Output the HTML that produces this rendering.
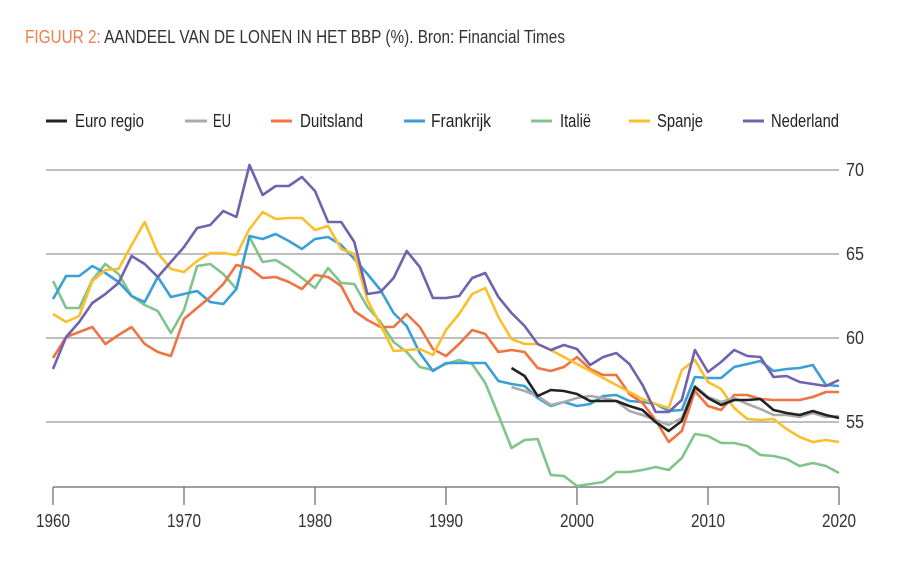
<!DOCTYPE html>
<html><head><meta charset="utf-8"><style>
html,body{margin:0;padding:0;background:#fff;}
svg{display:block;font-family:"Liberation Sans",sans-serif;}
</style></head><body>
<svg id="s" width="900" height="567" viewBox="0 0 900 567" xmlns="http://www.w3.org/2000/svg">
<text x="25" y="43" font-size="18" textLength="540" lengthAdjust="spacingAndGlyphs" fill="#333"><tspan fill="#f07f4f">FIGUUR 2:</tspan> AANDEEL VAN DE LONEN IN HET BBP (%). Bron: Financial Times</text>
<g stroke="#999" stroke-width="1.2">
<line x1="46" y1="170" x2="839" y2="170"/><line x1="46" y1="254" x2="839" y2="254"/>
<line x1="46" y1="338" x2="839" y2="338"/><line x1="46" y1="422" x2="839" y2="422"/>
</g>
<g font-size="18" fill="#333">
<text x="846" y="176" textLength="18" lengthAdjust="spacingAndGlyphs">70</text><text x="846" y="260" textLength="18" lengthAdjust="spacingAndGlyphs">65</text><text x="846" y="344" textLength="18" lengthAdjust="spacingAndGlyphs">60</text><text x="846" y="428" textLength="18" lengthAdjust="spacingAndGlyphs">55</text>
</g>
<g stroke="#666" stroke-width="1.2">
<line x1="53" y1="487" x2="839" y2="487"/>
<line x1="53" y1="487" x2="53" y2="505"/><line x1="184" y1="487" x2="184" y2="505"/>
<line x1="315" y1="487" x2="315" y2="505"/><line x1="446" y1="487" x2="446" y2="505"/>
<line x1="577" y1="487" x2="577" y2="505"/><line x1="708" y1="487" x2="708" y2="505"/>
<line x1="839" y1="487" x2="839" y2="505"/>
</g>
<g font-size="18" fill="#333">
<text x="36" y="527" textLength="34" lengthAdjust="spacingAndGlyphs">1960</text><text x="167" y="527" textLength="34" lengthAdjust="spacingAndGlyphs">1970</text><text x="298" y="527" textLength="34" lengthAdjust="spacingAndGlyphs">1980</text><text x="429" y="527" textLength="34" lengthAdjust="spacingAndGlyphs">1990</text><text x="560" y="527" textLength="34" lengthAdjust="spacingAndGlyphs">2000</text><text x="691" y="527" textLength="34" lengthAdjust="spacingAndGlyphs">2010</text><text x="822" y="527" textLength="34" lengthAdjust="spacingAndGlyphs">2020</text>
</g>
<g font-size="18" fill="#222" stroke-width="3">
<line x1="46" y1="121" x2="67" y2="121" stroke="#222"/><text x="75" y="127" textLength="69" lengthAdjust="spacingAndGlyphs">Euro regio</text>
<line x1="185" y1="121" x2="207" y2="121" stroke="#aaa"/><text x="213" y="127" textLength="18" lengthAdjust="spacingAndGlyphs">EU</text>
<line x1="271" y1="121" x2="292" y2="121" stroke="#f07343"/><text x="300" y="127" textLength="63" lengthAdjust="spacingAndGlyphs">Duitsland</text>
<line x1="404" y1="121" x2="425" y2="121" stroke="#3a9fd9"/><text x="431" y="127" textLength="60" lengthAdjust="spacingAndGlyphs">Frankrijk</text>
<line x1="531" y1="121" x2="552" y2="121" stroke="#80c48c"/><text x="560" y="127" textLength="31" lengthAdjust="spacingAndGlyphs">Italië</text>
<line x1="629" y1="121" x2="650" y2="121" stroke="#fbbf2d"/><text x="657" y="127" textLength="46" lengthAdjust="spacingAndGlyphs">Spanje</text>
<line x1="743" y1="121" x2="764" y2="121" stroke="#7162ad"/><text x="771" y="127" textLength="68" lengthAdjust="spacingAndGlyphs">Nederland</text>
</g>
<g id="lines" fill="none" stroke-width="2.6" stroke-linejoin="round"></g>
</svg>
<script>
var S=[
["#80c48c",1960,[281,308,308,280,264,274,296,305,311,333,310,266,264,274,289,237,262,260,268,278,288,268,283,284,307,322,342,352,367,370,364,360,364,383,415,448,440,439,475,476,486,484,482,472,472,470,467,470,458,434,436,443,443,446,455,456,459,466,463,466,473]],
["#3a9fd9",1960,[299,276,276,266,273,282,296,302,277,297,294,291,302,304,289,236,239,234,241,249,239,237,245,259,274,290,313,326,353,371,363,363,363,363,381,384,386,398,406,402,406,404,396,395,401,402,404,411,410,377,378,378,367,364,361,371,369,368,365,385,386]],
["#f07343",1960,[358,337,332,327,344,335,327,344,352,356,319,308,297,284,265,268,278,277,282,289,275,277,286,311,320,327,327,314,327,349,356,344,330,334,352,350,352,368,371,367,357,369,375,375,394,403,420,442,431,391,406,410,395,395,399,400,400,400,397,392,392]],
["#fbbf2d",1960,[314,322,316,281,270,269,245,222,253,269,272,261,253,253,255,229,212,219,218,218,230,226,249,254,300,325,351,350,349,355,330,314,294,288,317,339,344,344,350,357,364,371,378,385,392,399,404,408,370,360,382,389,408,419,420,419,429,437,442,440,442]],
["#7162ad",1960,[369,337,322,303,294,283,256,264,277,262,247,228,225,211,217,165,195,186,186,177,191,222,222,242,294,292,278,251,267,298,298,296,278,273,297,313,326,344,350,345,349,365,357,353,364,385,412,412,400,350,372,362,350,356,357,377,376,382,384,386,380]],
["#aaa",1995,[387,391,396,405,402,398,396,398,401,411,415,420,425,418,386,397,402,398,404,409,415,415,417,413,417,416]],
["#222",1995,[368,376,396,390,391,394,401,401,401,406,410,422,431,421,387,398,405,400,400,399,410,413,415,411,415,418]]
];
var g=document.getElementById('lines');
S.forEach(function(s){var p=s[2].map(function(v,i){return (53+13.1*(s[1]-1960+i)).toFixed(1)+','+v;}).join(' ');
var e=document.createElementNS('http://www.w3.org/2000/svg','polyline');e.setAttribute('points',p);e.setAttribute('stroke',s[0]);g.appendChild(e);});
</script>
</body></html>
